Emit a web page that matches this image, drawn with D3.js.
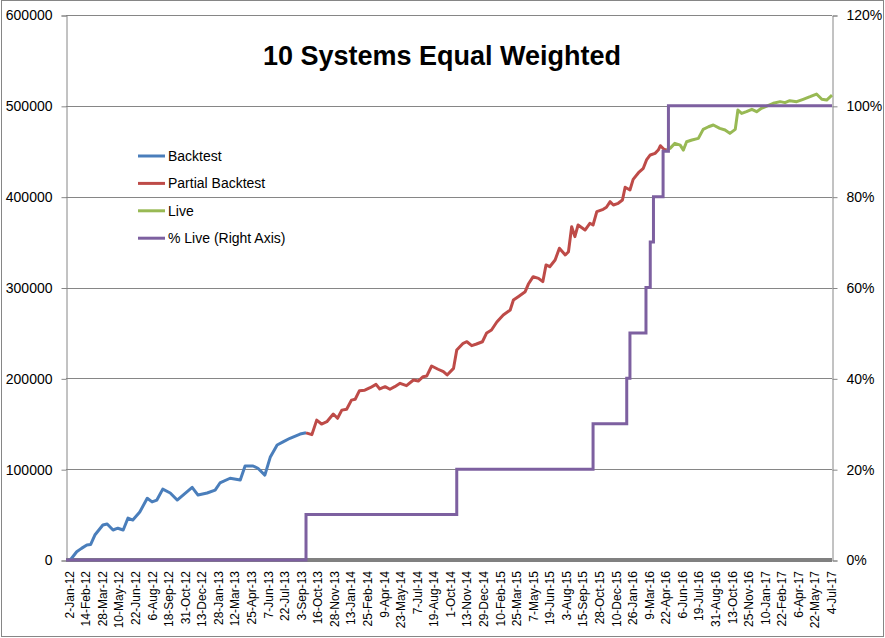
<!DOCTYPE html>
<html>
<head>
<meta charset="utf-8">
<script src="https://cdn.jsdelivr.net/npm/d3@7"></script>
<style>
  body { margin: 0; background: #fff; }
  svg { display: block; font-family: "Liberation Sans", Arial, sans-serif; }
</style>
</head>
<body>
<svg id="chart" width="885" height="638"></svg>
<script>
// trading-day index -> equity
const backtest = [
  [8, 0], [20, 9100], [29, 12800], [39, 16500], [46, 17000], [54, 27500],
  [69, 38500], [77, 39600], [88, 33000], [97, 35000], [107, 33000], [116, 46200],
  [125, 44000], [138, 52800], [152, 68000], [161, 64000], [170, 66000], [181, 78000],
  [195, 73800], [208, 66000], [219, 71500], [236, 80000], [247, 71500], [264, 73800],
  [279, 77000], [288, 84800], [307, 90000], [326, 88000], [335, 103500], [350, 103500],
  [359, 101000], [372, 93500], [382, 113000], [395, 126600], [406, 130000], [419, 134000],
  [438, 138700], [449, 140000]
]

const partialBacktest = [
  [449, 140000], [460, 138000], [469, 154000], [478, 149700], [488, 152300], [500, 160700],
  [508, 156000], [516, 165000], [525, 166000], [534, 176000], [541, 177000], [549, 186400],
  [559, 187000], [569, 189700], [580, 193400], [587, 188300], [597, 190800], [606, 188000],
  [615, 190800], [625, 194500], [637, 191900], [650, 198200], [659, 197000], [668, 201800],
  [675, 202600], [684, 213600], [696, 210000], [706, 207300], [713, 203700], [725, 211000],
  [731, 231200], [743, 238600], [750, 240300], [759, 236000], [768, 237800], [779, 240300],
  [787, 250000], [796, 253200], [806, 262000], [818, 269700], [831, 275200], [837, 286200],
  [846, 289900], [859, 295400], [865, 303800], [874, 311900], [884, 310100], [892, 306400],
  [898, 324800], [905, 322900], [915, 330300], [923, 343200], [934, 335800], [940, 339400],
  [946, 366900], [952, 356000], [958, 368800], [971, 363300], [980, 370700], [986, 368800],
  [993, 383500], [1005, 386100], [1011, 388300], [1018, 394500], [1024, 390800], [1033, 392700],
  [1041, 396300], [1046, 410300], [1055, 407300], [1061, 419100], [1071, 426400], [1080, 431200],
  [1086, 440400], [1093, 445900], [1102, 447700], [1108, 451300], [1112, 456100], [1120, 451300],
  [1124, 452000]
]

const live = [
  [1124, 452000], [1130, 453200], [1139, 458700], [1149, 456800], [1155, 451300], [1161, 460500],
  [1171, 462400], [1183, 464200], [1192, 474100], [1202, 477000], [1211, 478900], [1223, 475200],
  [1233, 473400], [1242, 469700], [1252, 474100], [1257, 495400], [1264, 491700], [1273, 493600],
  [1283, 496200], [1292, 493600], [1301, 497300], [1311, 499800], [1323, 502800], [1336, 504600],
  [1345, 503500], [1354, 505700], [1367, 504600], [1379, 507200], [1392, 510100], [1404, 513000],
  [1414, 507200], [1423, 506400], [1433, 511700]
]

// share of systems live (right axis), as steps
const pctLive = [
  [0, 0], [449, 0.1], [731, 0.2], [986, 0.3], [1049, 0.4], [1055, 0.5],
  [1085, 0.6], [1093, 0.7], [1099, 0.8], [1117, 0.9], [1127, 1.0], [1433, 1.0]
]

const xLabels = [
  '2-Jan-12', '14-Feb-12', '28-Mar-12', '10-May-12', '22-Jun-12', '6-Aug-12', '18-Sep-12',
  '31-Oct-12', '13-Dec-12', '28-Jan-13', '12-Mar-13', '25-Apr-13', '7-Jun-13', '22-Jul-13',
  '3-Sep-13', '16-Oct-13', '28-Nov-13', '13-Jan-14', '25-Feb-14', '9-Apr-14', '23-May-14',
  '7-Jul-14', '19-Aug-14', '1-Oct-14', '13-Nov-14', '29-Dec-14', '10-Feb-15', '25-Mar-15',
  '7-May-15', '19-Jun-15', '3-Aug-15', '15-Sep-15', '28-Oct-15', '10-Dec-15', '26-Jan-16',
  '9-Mar-16', '22-Apr-16', '6-Jun-16', '19-Jul-16', '31-Aug-16', '13-Oct-16', '25-Nov-16',
  '10-Jan-17', '22-Feb-17', '6-Apr-17', '22-May-17', '4-Jul-17'
]
const labelEvery = 31
const lastDay = 1433

const legendNames = ['Backtest', 'Partial Backtest', 'Live', '% Live (Right Axis)']
const colors = ['#4A7EBB', '#BE4B48', '#98B954', '#7D60A0']

const plotLeft = 66, plotRight = 832, plotTop = 15, plotBottom = 560
const gridColor = '#868686'
const font = '"Liberation Sans", Arial, sans-serif'

const svg = d3.select('#chart')

const x = d3.scaleLinear().domain([0, lastDay]).range([plotLeft, plotRight])
const y = d3.scaleLinear().domain([0, 600000]).range([plotBottom, plotTop])
const y2 = d3.scaleLinear().domain([0, 1.2]).range([plotBottom, plotTop])

// outer border
svg.append('rect')
    .attr('x', 1.5).attr('y', 0.5)
    .attr('width', 882).attr('height', 636)
    .attr('fill', 'none')
    .attr('stroke', gridColor)

// gridlines
svg.append('g')
    .selectAll('line')
    .data(y.ticks(6).filter(d => d > 0))
    .enter()
    .append('line')
    .attr('x1', plotLeft).attr('x2', plotRight)
    .attr('y1', d => Math.round(y(d)) + 0.5)
    .attr('y2', d => Math.round(y(d)) + 0.5)
    .attr('stroke', gridColor)

// left axis
const gl = svg.append('g')
    .attr('transform', 'translate(' + (plotLeft + 0.5) + ',0.5)')
    .call(d3.axisLeft(y).ticks(6).tickFormat(d3.format('d')).tickSize(5).tickPadding(9))
gl.select('.domain').attr('stroke', gridColor)
gl.selectAll('.tick line').attr('stroke', gridColor)
gl.selectAll('text').attr('font-size', 14).attr('fill', '#000').attr('font-family', font)

// right axis
const gr = svg.append('g')
    .attr('transform', 'translate(' + (plotRight + 0.5) + ',0.5)')
    .call(d3.axisRight(y2).ticks(6).tickFormat(d3.format('.0%')).tickSize(5).tickPadding(9))
gr.select('.domain').attr('stroke', gridColor)
gr.selectAll('.tick line').attr('stroke', gridColor)
gr.selectAll('text').attr('font-size', 14).attr('fill', '#000').attr('font-family', font)

// bottom axis
const gb = svg.append('g')
    .attr('transform', 'translate(0,' + plotBottom + ')')
    .call(d3.axisBottom(x)
        .tickValues(xLabels.map((d, i) => i * labelEvery))
        .tickFormat((d, i) => xLabels[i])
        .tickSize(0))
gb.select('.domain').remove()
gb.selectAll('text')
    .attr('font-size', 12)
    .attr('fill', '#000')
    .attr('font-family', font)
    .attr('transform', 'rotate(-90)')
    .attr('x', -11)
    .attr('y', 3)
    .attr('dy', '0.35em')
    .style('text-anchor', 'end')

svg.append('line')
    .attr('x1', plotLeft).attr('x2', plotRight)
    .attr('y1', plotBottom).attr('y2', plotBottom)
    .attr('stroke', '#808080')
    .attr('stroke-width', 4)

// series
const line = d3.line().x(d => x(d[0])).y(d => y(d[1]))
const stepLine = d3.line().x(d => x(d[0])).y(d => y2(d[1])).curve(d3.curveStepAfter)

const series = [backtest, partialBacktest, live]
svg.append('g')
    .selectAll('path')
    .data(series)
    .enter()
    .append('path')
    .attr('d', line)
    .attr('fill', 'none')
    .attr('stroke', (d, i) => colors[i])
    .attr('stroke-width', 3)
    .attr('stroke-linejoin', 'round')

svg.append('path')
    .datum(pctLive)
    .attr('d', stepLine)
    .attr('fill', 'none')
    .attr('stroke', colors[3])
    .attr('stroke-width', 3)

// title
svg.append('text')
    .attr('x', 442).attr('y', 65)
    .attr('text-anchor', 'middle')
    .attr('font-size', 27)
    .attr('font-weight', 'bold')
    .text('10 Systems Equal Weighted')

// legend
const lg = svg.append('g')
    .selectAll('g')
    .data(legendNames)
    .enter()
    .append('g')
    .attr('transform', (d, i) => 'translate(138,' + (156 + i * 27.4) + ')')

lg.append('line')
    .attr('x1', 0).attr('x2', 27)
    .attr('stroke', (d, i) => colors[i])
    .attr('stroke-width', 3)

lg.append('text')
    .attr('x', 30)
    .attr('dy', '0.35em')
    .attr('font-size', 14)
    .text(d => d)
</script>
</body>
</html>
